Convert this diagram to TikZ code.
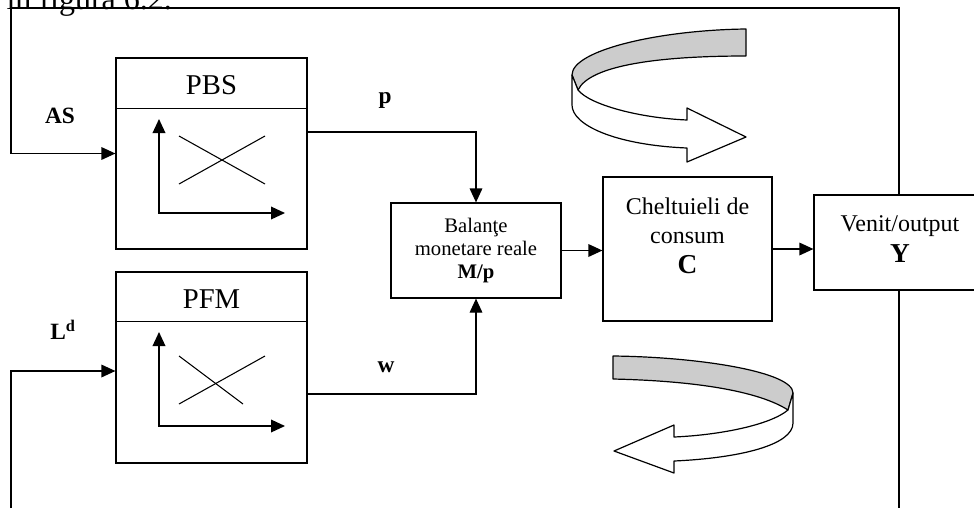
\documentclass[tikz,border=0pt]{standalone}
\usepackage{fontspec}
\setmainfont{Liberation Serif}
\usetikzlibrary{arrows.meta}
\begin{document}
\begin{tikzpicture}[x=0.75pt,y=-0.75pt,
  line width=0.9pt,
  box/.style={draw, line width=0.9pt, inner sep=0pt},
  arr/.style={-{Triangle[length=10.5pt,width=9.5pt]}},
  axes/.style={{Triangle[length=10.5pt,width=9.5pt]}-{Triangle[length=10.5pt,width=9.5pt]}, line width=1pt},
  cross/.style={line width=0.8pt},
  ribbonback/.style={draw, line width=0.9pt, fill=black!20, line join=round},
  ribbonfront/.style={draw, line width=0.9pt, fill=white, line join=round},
  title/.style={font=\fontsize{21.5}{24}\selectfont},
  sym/.style={font=\fontsize{17.5}{20}\selectfont\bfseries, inner sep=0pt},
]
\useasboundingbox (0,0) rectangle (974,508);

% running text above the figure
\node[anchor=base west, inner sep=0pt, font=\fontsize{24}{24}\selectfont] (caption) at (6,9) {în figura 6.2.};

% market blocks
\node[box, minimum width=143.25pt, minimum height=143.25pt] (pbs) at (211.5,153.5) {};
\draw (pbs.north west) ++(0,51) -- ++(191,0);
\node[title] (pbst) at (211.5,85) {PBS};

\node[box, minimum width=143.25pt, minimum height=143.25pt] (pfm) at (211.5,367.5) {};
\draw (pfm.north west) ++(0,50) -- ++(191,0);
\node[title] (pfmt) at (211.5,299) {PFM};

% small charts inside the blocks
\draw[axes] (159,119) -- (159,213) -- (285,213);
\draw[cross] (179,136) -- (265,184);
\draw[cross] (179,184) -- (265,136);

\draw[axes] (159,332) -- (159,426) -- (285,426);
\draw[cross] (179,356) -- (243,404);
\draw[cross] (179,404) -- (265,356);

% central chain
\node[box, minimum width=127.5pt, minimum height=71.25pt, align=center,
      font=\fontsize{15.5}{17}\selectfont] (bal) at (476,250.5)
      {Balanţe\\monetare reale\\\textbf{M/p}};

\node[box, minimum width=126.75pt, minimum height=108pt] (chelt) at (687.5,249) {};
\node[align=center, inner sep=0pt, font=\fontsize{18}{21.75}\selectfont] (cheltt) at (687.5,236)
      {Cheltuieli de\\consum\\[1pt]{\fontsize{20.5}{22}\selectfont\bfseries C}};

\node[box, minimum width=129pt, minimum height=71.25pt] (venit) at (900,242.5) {};
\node[align=center, inner sep=0pt, font=\fontsize{18}{23}\selectfont] (venitt) at (900,239)
      {Venit/output\\{\fontsize{20.5}{22}\selectfont\bfseries Y}};

% labels on the links
\node[sym] (as) at (60,116) {AS};
\node[sym] (ld) at (63,330) {L\textsuperscript{d}};
\node[sym] (p) at (385,100) {p};
\node[sym] (w) at (386,367) {w};

% links
\path (pbs.east) ++(0,-21.5) coordinate (pout);
\path (pfm.east) ++(0,26.5) coordinate (wout);
\draw[arr] (pout) -| (bal.north);
\draw[arr] (wout) -| (bal.south);
\draw[arr] (bal.east) -- (bal.east -| chelt.west);
\draw[arr] (chelt.east) -- (chelt.east -| venit.west);

% feedback loops
\coordinate (tl) at (11,8);
\coordinate (tr) at (899,8);
\coordinate (bl) at (11,508);
\coordinate (br) at (899,508);
\path (pfm.west) ++(0,3.5) coordinate (pin);
\draw[arr] (venit.north -| tr) -- (tr) -- (tl) |- (pbs.west);
\draw (venit.south -| br) -- (br);
\draw[arr] (bl) |- (pin);

% upper ribbon arrow (turning right)
\draw[ribbonback] (746,29) .. controls (660,30) and (572,50) .. (572,75)
  -- (578,90) .. controls (590,65) and (660,56) .. (746,56) -- cycle;
\draw[ribbonfront] (572,75) -- (572,105)
  .. controls (572,125) and (615,145) .. (687,148)
  -- (687,162) -- (746,137) -- (687,108) -- (687,120)
  .. controls (640,118) and (590,105) .. (578,90) -- cycle;

% lower ribbon arrow (turning left)
\draw[ribbonback] (613,356) .. controls (700,357) and (793,372) .. (793,393)
  -- (788,410) .. controls (760,392) and (700,381) .. (613,379) -- cycle;
\draw[ribbonfront] (793,393) -- (793,423)
  .. controls (793,445) and (740,458) .. (674,461)
  -- (674,473) -- (614,451) -- (674,425) -- (674,437)
  .. controls (720,435) and (770,425) .. (788,410) -- cycle;
\end{tikzpicture}
\end{document}
